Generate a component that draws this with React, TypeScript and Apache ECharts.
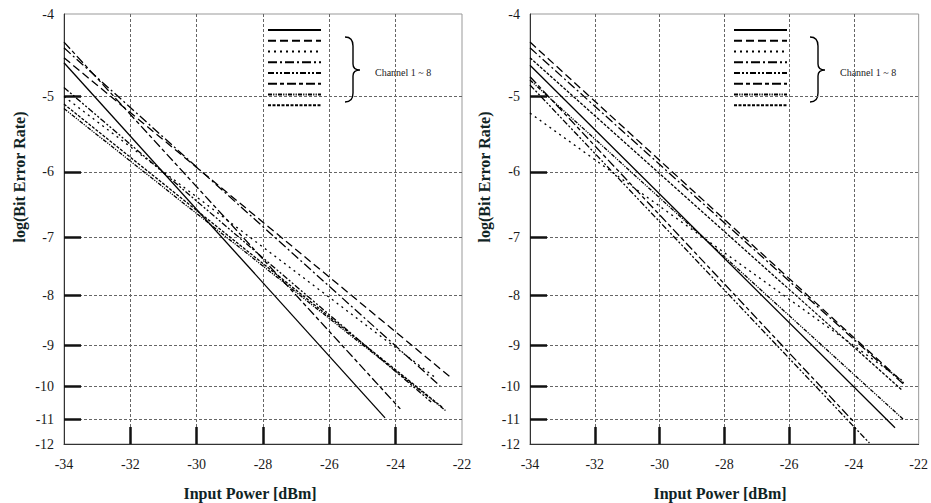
import React, { useEffect, useRef } from 'react';
import * as echarts from 'echarts';

// ---------- axes ----------
const X_TICKS = [-34, -32, -30, -28, -26, -24, -22];
const X_INNER_TICKS = [-32, -30, -28, -26, -24];
const Y_TICKS = [-4, -5, -6, -7, -8, -9, -10, -11, -12];
const Y_INNER_TICKS = [-5, -6, -7, -8, -9, -10, -11];
// non-uniform BER axis: relative depth of each decade between -4 (top) and -12 (bottom)
const Y_SCALE_STOPS = [0, 0.192, 0.367, 0.52, 0.655, 0.77, 0.866, 0.943, 1];

// ---------- data ----------
const CHANNELS = ['Channel 1', 'Channel 2', 'Channel 3', 'Channel 4', 'Channel 5', 'Channel 6', 'Channel 7', 'Channel 8'];
const START_X = -34; // input power where every curve starts (dBm)

const LEFT_START_Y = [-4.59, -4.53, -5.0, -4.41, -4.89, -4.34, -5.16, -5.1];
const LEFT_END_X = [-24.32, -22.36, -22.75, -22.66, -22.93, -23.86, -22.48, -22.57];
const LEFT_END_Y = [-10.95, -9.77, -9.82, -9.99, -10.47, -10.68, -10.74, -10.65];

const RIGHT_START_Y = [-4.62, -4.34, -5.22, -4.41, -4.86, -4.76, -4.8, -4.53];
const RIGHT_END_X = [-22.73, -22.46, -22.52, -22.43, -23.52, -23.97, -22.46, -22.52];
const RIGHT_END_Y = [-11.34, -9.92, -9.85, -9.97, -11.96, -11.14, -11.01, -10.11];

const LEGEND_TEXT = 'Channel 1 ~ 8';
const X_TITLE = 'Input Power [dBm]';
const Y_TITLE = 'log(Bit Error Rate)';

// ---------- styles ----------
const DASHES: (number[] | null)[] = [
  null,
  [8, 4],
  [2, 4],
  [9, 3, 2, 3],
  [6, 2, 2, 2, 2, 2],
  [9, 3, 4, 3],
  [4, 1.2, 1.2, 1.2, 1.2, 1.2],
  [3, 1.5],
];
const FONT = 'Liberation Serif, Times New Roman, serif';

// ---------- BER scale warp ----------
function warp(v: number): number {
  const k = -v;
  for (let i = 0; i < Y_SCALE_STOPS.length - 1; i++) {
    const k0 = -Y_TICKS[i];
    const k1 = -Y_TICKS[i + 1];
    if (k <= k1 || i === Y_SCALE_STOPS.length - 2) {
      const f = Y_SCALE_STOPS[i] + ((k - k0) / (k1 - k0)) * (Y_SCALE_STOPS[i + 1] - Y_SCALE_STOPS[i]);
      return Y_TICKS[0] + (Y_TICKS[Y_TICKS.length - 1] - Y_TICKS[0]) * f;
    }
  }
  return v;
}
function unwarp(w: number): number {
  const f = (w - Y_TICKS[0]) / (Y_TICKS[Y_TICKS.length - 1] - Y_TICKS[0]);
  for (let i = 0; i < Y_SCALE_STOPS.length - 1; i++) {
    if (f <= Y_SCALE_STOPS[i + 1] + 1e-9 || i === Y_SCALE_STOPS.length - 2) {
      const t = (f - Y_SCALE_STOPS[i]) / (Y_SCALE_STOPS[i + 1] - Y_SCALE_STOPS[i]);
      return Y_TICKS[i] + t * (Y_TICKS[i + 1] - Y_TICKS[i]);
    }
  }
  return w;
}

const BRACE_D = 'M0,0 C6,0 8,3 8,9 L8,27 C8,31 10,33 15,33 C10,33 8,35 8,39 L8,56 C8,62 6,65 0,65';
let braceRegistered = false;
function registerBrace() {
  if (braceRegistered) return;
  echarts.graphic.registerShape('brace', echarts.graphic.extendPath(BRACE_D, {}) as any);
  braceRegistered = true;
}

function makeX(gridIndex: number) {
  return {
    type: 'value',
    gridIndex,
    min: -34,
    max: -22,
    interval: 2,
    axisLine: { show: true, onZero: false, lineStyle: { color: '#333', width: 1 } },
    axisTick: { show: true, inside: true, length: 17, customValues: X_INNER_TICKS, lineStyle: { color: '#111', width: 2.5 } },
    axisLabel: { customValues: X_TICKS, margin: 13, fontFamily: FONT, fontSize: 14, color: '#1a1a1a', formatter: (v: number) => String(v) },
    splitLine: { show: true, lineStyle: { color: '#666', type: [3, 2], width: 1 } },
  };
}
function makeY(gridIndex: number) {
  return {
    type: 'value',
    gridIndex,
    min: Y_TICKS[Y_TICKS.length - 1],
    max: Y_TICKS[0],
    axisLine: { show: true, onZero: false, lineStyle: { color: '#333', width: 1 } },
    axisTick: { show: true, inside: true, length: 17, customValues: Y_INNER_TICKS.map(warp), lineStyle: { color: '#111', width: 2.5 } },
    axisLabel: {
      customValues: Y_TICKS.map(warp),
      margin: 10,
      fontFamily: FONT,
      fontSize: 14,
      color: '#1a1a1a',
      formatter: (v: number) => String(Math.round(unwarp(v))),
    },
    splitLine: { show: true, lineStyle: { color: '#666', type: [3, 2], width: 1 } },
  };
}

function makeSeries(p: number, sy: number[], ex: number[], ey: number[]) {
  return CHANNELS.map((name, i) => ({
    type: 'line',
    name,
    xAxisIndex: p,
    yAxisIndex: p,
    symbol: 'none',
    showSymbol: false,
    silent: true,
    data: [
      [START_X, warp(sy[i])],
      [ex[i], warp(ey[i])],
    ],
    lineStyle: { color: '#000', width: 1.3, type: DASHES[i] ?? 'solid' },
  }));
}

function legendGraphics(x1: number, x2: number, braceX: number, textX: number) {
  const els: any[] = [];
  CHANNELS.forEach((_, i) => {
    const y = 30 + i * 10.75;
    els.push({
      type: 'line',
      silent: true,
      shape: { x1, y1: y, x2, y2: y },
      style: { stroke: '#000', lineWidth: 2, lineDash: DASHES[i] ?? null },
    });
  });
  els.push({ type: 'brace', x: braceX, y: 37, silent: true, style: { fill: 'none', stroke: '#000', lineWidth: 1.4 } });
  els.push({
    type: 'text',
    x: textX,
    y: 72,
    silent: true,
    style: { text: LEGEND_TEXT, fontFamily: FONT, fontSize: 10, fill: '#222', verticalAlign: 'middle', align: 'left' },
  });
  return els;
}

function titleGraphics(xTitleX: number, yTitleX: number) {
  return [
    {
      type: 'text',
      x: xTitleX,
      y: 493,
      silent: true,
      style: { text: X_TITLE, fontFamily: FONT, fontSize: 16, fontWeight: 'bold', fill: '#102424', align: 'center', verticalAlign: 'middle' },
    },
    {
      type: 'text',
      x: yTitleX,
      y: 177,
      rotation: Math.PI / 2,
      silent: true,
      style: { text: Y_TITLE, fontFamily: FONT, fontSize: 16, fontWeight: 'bold', fill: '#102424', align: 'center', verticalAlign: 'middle' },
    },
  ];
}

export default function App() {
  const ref = useRef<HTMLDivElement>(null);
  useEffect(() => {
    if (!ref.current) return;
    registerBrace();
    const chart = echarts.init(ref.current, undefined, { renderer: 'svg' });
    chart.setOption({
      animation: false,
      backgroundColor: '#fff',
      textStyle: { fontFamily: FONT },
      grid: [
        { left: 64, top: 14, width: 398, height: 430, show: true, borderColor: '#999', borderWidth: 1, backgroundColor: 'transparent' },
        { left: 530, top: 14, width: 397, height: 430, show: true, borderColor: '#999', borderWidth: 1, backgroundColor: 'transparent' },
      ],
      xAxis: [makeX(0), makeX(1)],
      yAxis: [makeY(0), makeY(1)],
      series: [
        ...makeSeries(0, LEFT_START_Y, LEFT_END_X, LEFT_END_Y),
        ...makeSeries(1, RIGHT_START_Y, RIGHT_END_X, RIGHT_END_Y),
      ],
      graphic: [
        ...legendGraphics(268, 321, 345, 375),
        ...legendGraphics(734, 787, 810, 840),
        ...titleGraphics(250, 19),
        ...titleGraphics(720, 484),
      ],
    });
    return () => chart.dispose();
  }, []);
  return <div ref={ref} style={{ position: 'fixed', left: 0, top: 0, width: 931, height: 503, background: '#fff' }} />;
}
